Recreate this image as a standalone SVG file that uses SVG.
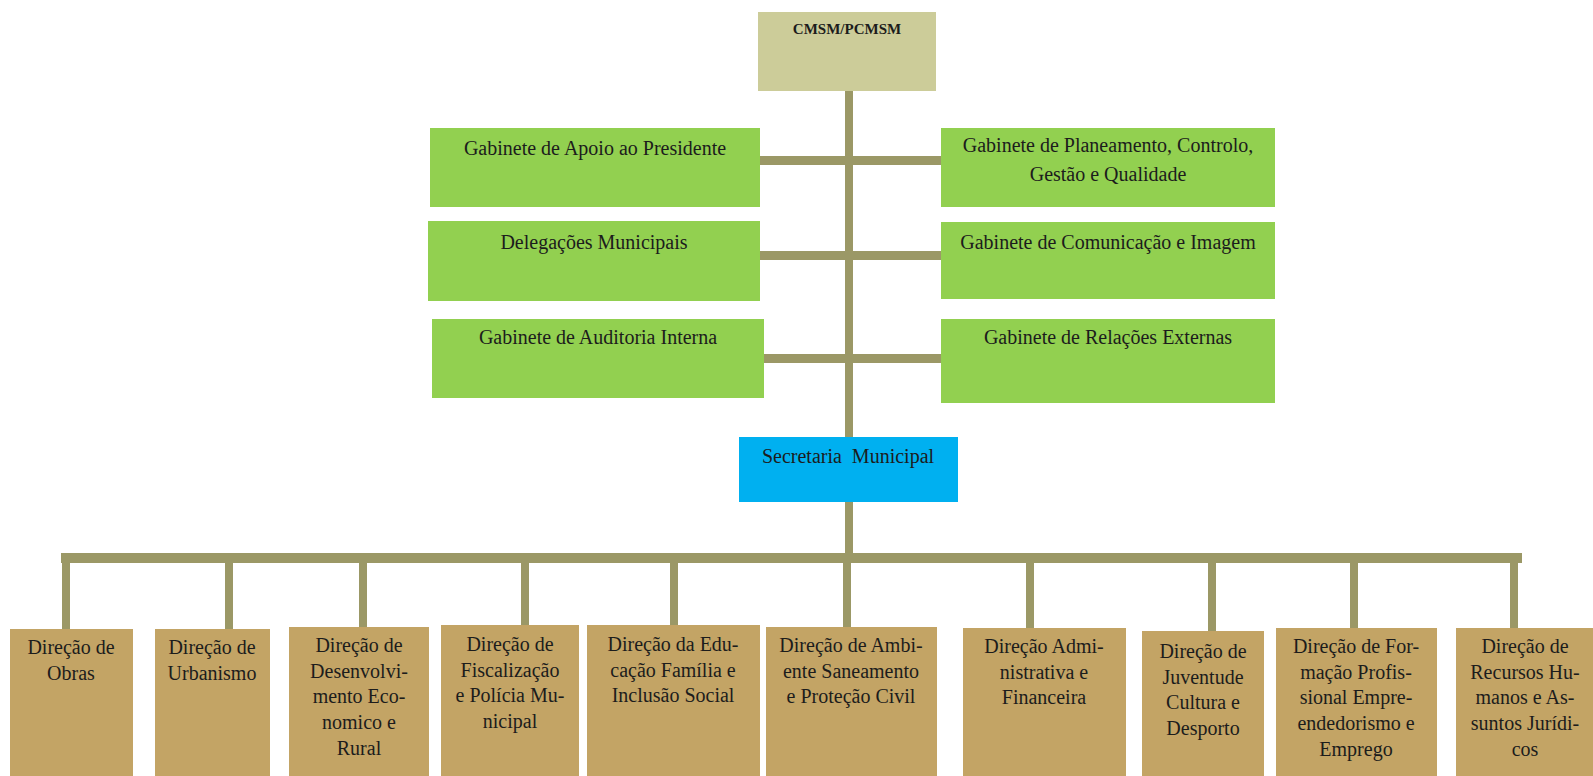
<svg xmlns="http://www.w3.org/2000/svg" width="1593" height="776" viewBox="0 0 1593 776">
<style>
.c{fill:#9b9866}
.top{fill:#cccc99}
.g{fill:#92d050}
.b{fill:#00b0f0}
.d{fill:#c3a465}
text{font-family:"Liberation Serif","DejaVu Serif",serif;fill:#1c1c1c;text-anchor:middle}
.gt{font-size:20px}
.dt{font-size:20px}
</style>
<rect width="1593" height="776" fill="#ffffff"/>
<g id="connectors">
<rect class="c" x="845" y="91" width="8" height="346"/>
<rect class="c" x="845" y="502" width="8" height="53"/>
<rect class="c" x="760" y="156" width="181" height="9"/>
<rect class="c" x="760" y="251" width="181" height="9"/>
<rect class="c" x="764" y="354" width="177" height="9"/>
<rect class="c" x="61" y="553" width="1461" height="10"/>
<rect class="c" x="62" y="560" width="8" height="69"/>
<rect class="c" x="225" y="560" width="8" height="69"/>
<rect class="c" x="359" y="560" width="8" height="67"/>
<rect class="c" x="521" y="560" width="8" height="65"/>
<rect class="c" x="670" y="560" width="8" height="65"/>
<rect class="c" x="843" y="560" width="8" height="67"/>
<rect class="c" x="1026" y="560" width="8" height="68"/>
<rect class="c" x="1208" y="560" width="8" height="71"/>
<rect class="c" x="1350" y="560" width="8" height="68"/>
<rect class="c" x="1510" y="560" width="8" height="68"/>
</g>
<g id="n-cmsm"><rect class="top" x="758" y="12" width="178" height="79"/><text x="847" y="34" style="font-size:15px;font-weight:bold">CMSM/PCMSM</text></g>
<g id="n-apoio"><rect class="g" x="430" y="128" width="330" height="79"/><text class="gt" x="595" y="155">Gabinete de Apoio ao Presidente</text></g>
<g id="n-planeamento"><rect class="g" x="941" y="128" width="334" height="79"/><text class="gt" x="1108" y="152">Gabinete de Planeamento, Controlo,</text><text class="gt" x="1108" y="181">Gestão e Qualidade</text></g>
<g id="n-delegacoes"><rect class="g" x="428" y="221" width="332" height="80"/><text class="gt" x="594" y="249">Delegações Municipais</text></g>
<g id="n-comunicacao"><rect class="g" x="941" y="222" width="334" height="77"/><text class="gt" x="1108" y="249">Gabinete de Comunicação e Imagem</text></g>
<g id="n-auditoria"><rect class="g" x="432" y="319" width="332" height="79"/><text class="gt" x="598" y="344">Gabinete de Auditoria Interna</text></g>
<g id="n-relacoes"><rect class="g" x="941" y="319" width="334" height="84"/><text class="gt" x="1108" y="344">Gabinete de Relações Externas</text></g>
<g id="n-secretaria"><rect class="b" x="739" y="437" width="219" height="65"/><text class="gt" x="848" y="463" xml:space="preserve">Secretaria  Municipal</text></g>
<g id="n-obras"><rect class="d" x="10" y="629" width="123" height="150"/><text class="dt" x="71" y="654">Direção de</text><text class="dt" x="71" y="680">Obras</text></g>
<g id="n-urbanismo"><rect class="d" x="155" y="629" width="115" height="150"/><text class="dt" x="212" y="654">Direção de</text><text class="dt" x="212" y="680">Urbanismo</text></g>
<g id="n-desenvolvimento"><rect class="d" x="289" y="627" width="140" height="152"/><text class="dt" x="359" y="652">Direção de</text><text class="dt" x="359" y="678">Desenvolvi-</text><text class="dt" x="359" y="703">mento Eco-</text><text class="dt" x="359" y="729">nomico e</text><text class="dt" x="359" y="755">Rural</text></g>
<g id="n-fiscalizacao"><rect class="d" x="441" y="625" width="138" height="154"/><text class="dt" x="510" y="651">Direção de</text><text class="dt" x="510" y="677">Fiscalização</text><text class="dt" x="510" y="702">e Polícia Mu-</text><text class="dt" x="510" y="728">nicipal</text></g>
<g id="n-educacao"><rect class="d" x="587" y="625" width="173" height="154"/><text class="dt" x="673" y="651">Direção da Edu-</text><text class="dt" x="673" y="677">cação Família e</text><text class="dt" x="673" y="702">Inclusão Social</text></g>
<g id="n-ambiente"><rect class="d" x="766" y="627" width="171" height="152"/><text class="dt" x="851" y="652">Direção de Ambi-</text><text class="dt" x="851" y="678">ente Saneamento</text><text class="dt" x="851" y="703">e Proteção Civil</text></g>
<g id="n-administrativa"><rect class="d" x="963" y="628" width="163" height="151"/><text class="dt" x="1044" y="653">Direção Admi-</text><text class="dt" x="1044" y="679">nistrativa e</text><text class="dt" x="1044" y="704">Financeira</text></g>
<g id="n-juventude"><rect class="d" x="1142" y="631" width="122" height="148"/><text class="dt" x="1203" y="658">Direção de</text><text class="dt" x="1203" y="684">Juventude</text><text class="dt" x="1203" y="709">Cultura e</text><text class="dt" x="1203" y="735">Desporto</text></g>
<g id="n-formacao"><rect class="d" x="1276" y="628" width="161" height="151"/><text class="dt" x="1356" y="653">Direção de For-</text><text class="dt" x="1356" y="679">mação Profis-</text><text class="dt" x="1356" y="704">sional Empre-</text><text class="dt" x="1356" y="730">endedorismo e</text><text class="dt" x="1356" y="756">Emprego</text></g>
<g id="n-recursos"><rect class="d" x="1456" y="628" width="140" height="151"/><text class="dt" x="1525" y="653">Direção de</text><text class="dt" x="1525" y="679">Recursos Hu-</text><text class="dt" x="1525" y="704">manos e As-</text><text class="dt" x="1525" y="730">suntos Jurídi-</text><text class="dt" x="1525" y="756">cos</text></g>
</svg>
